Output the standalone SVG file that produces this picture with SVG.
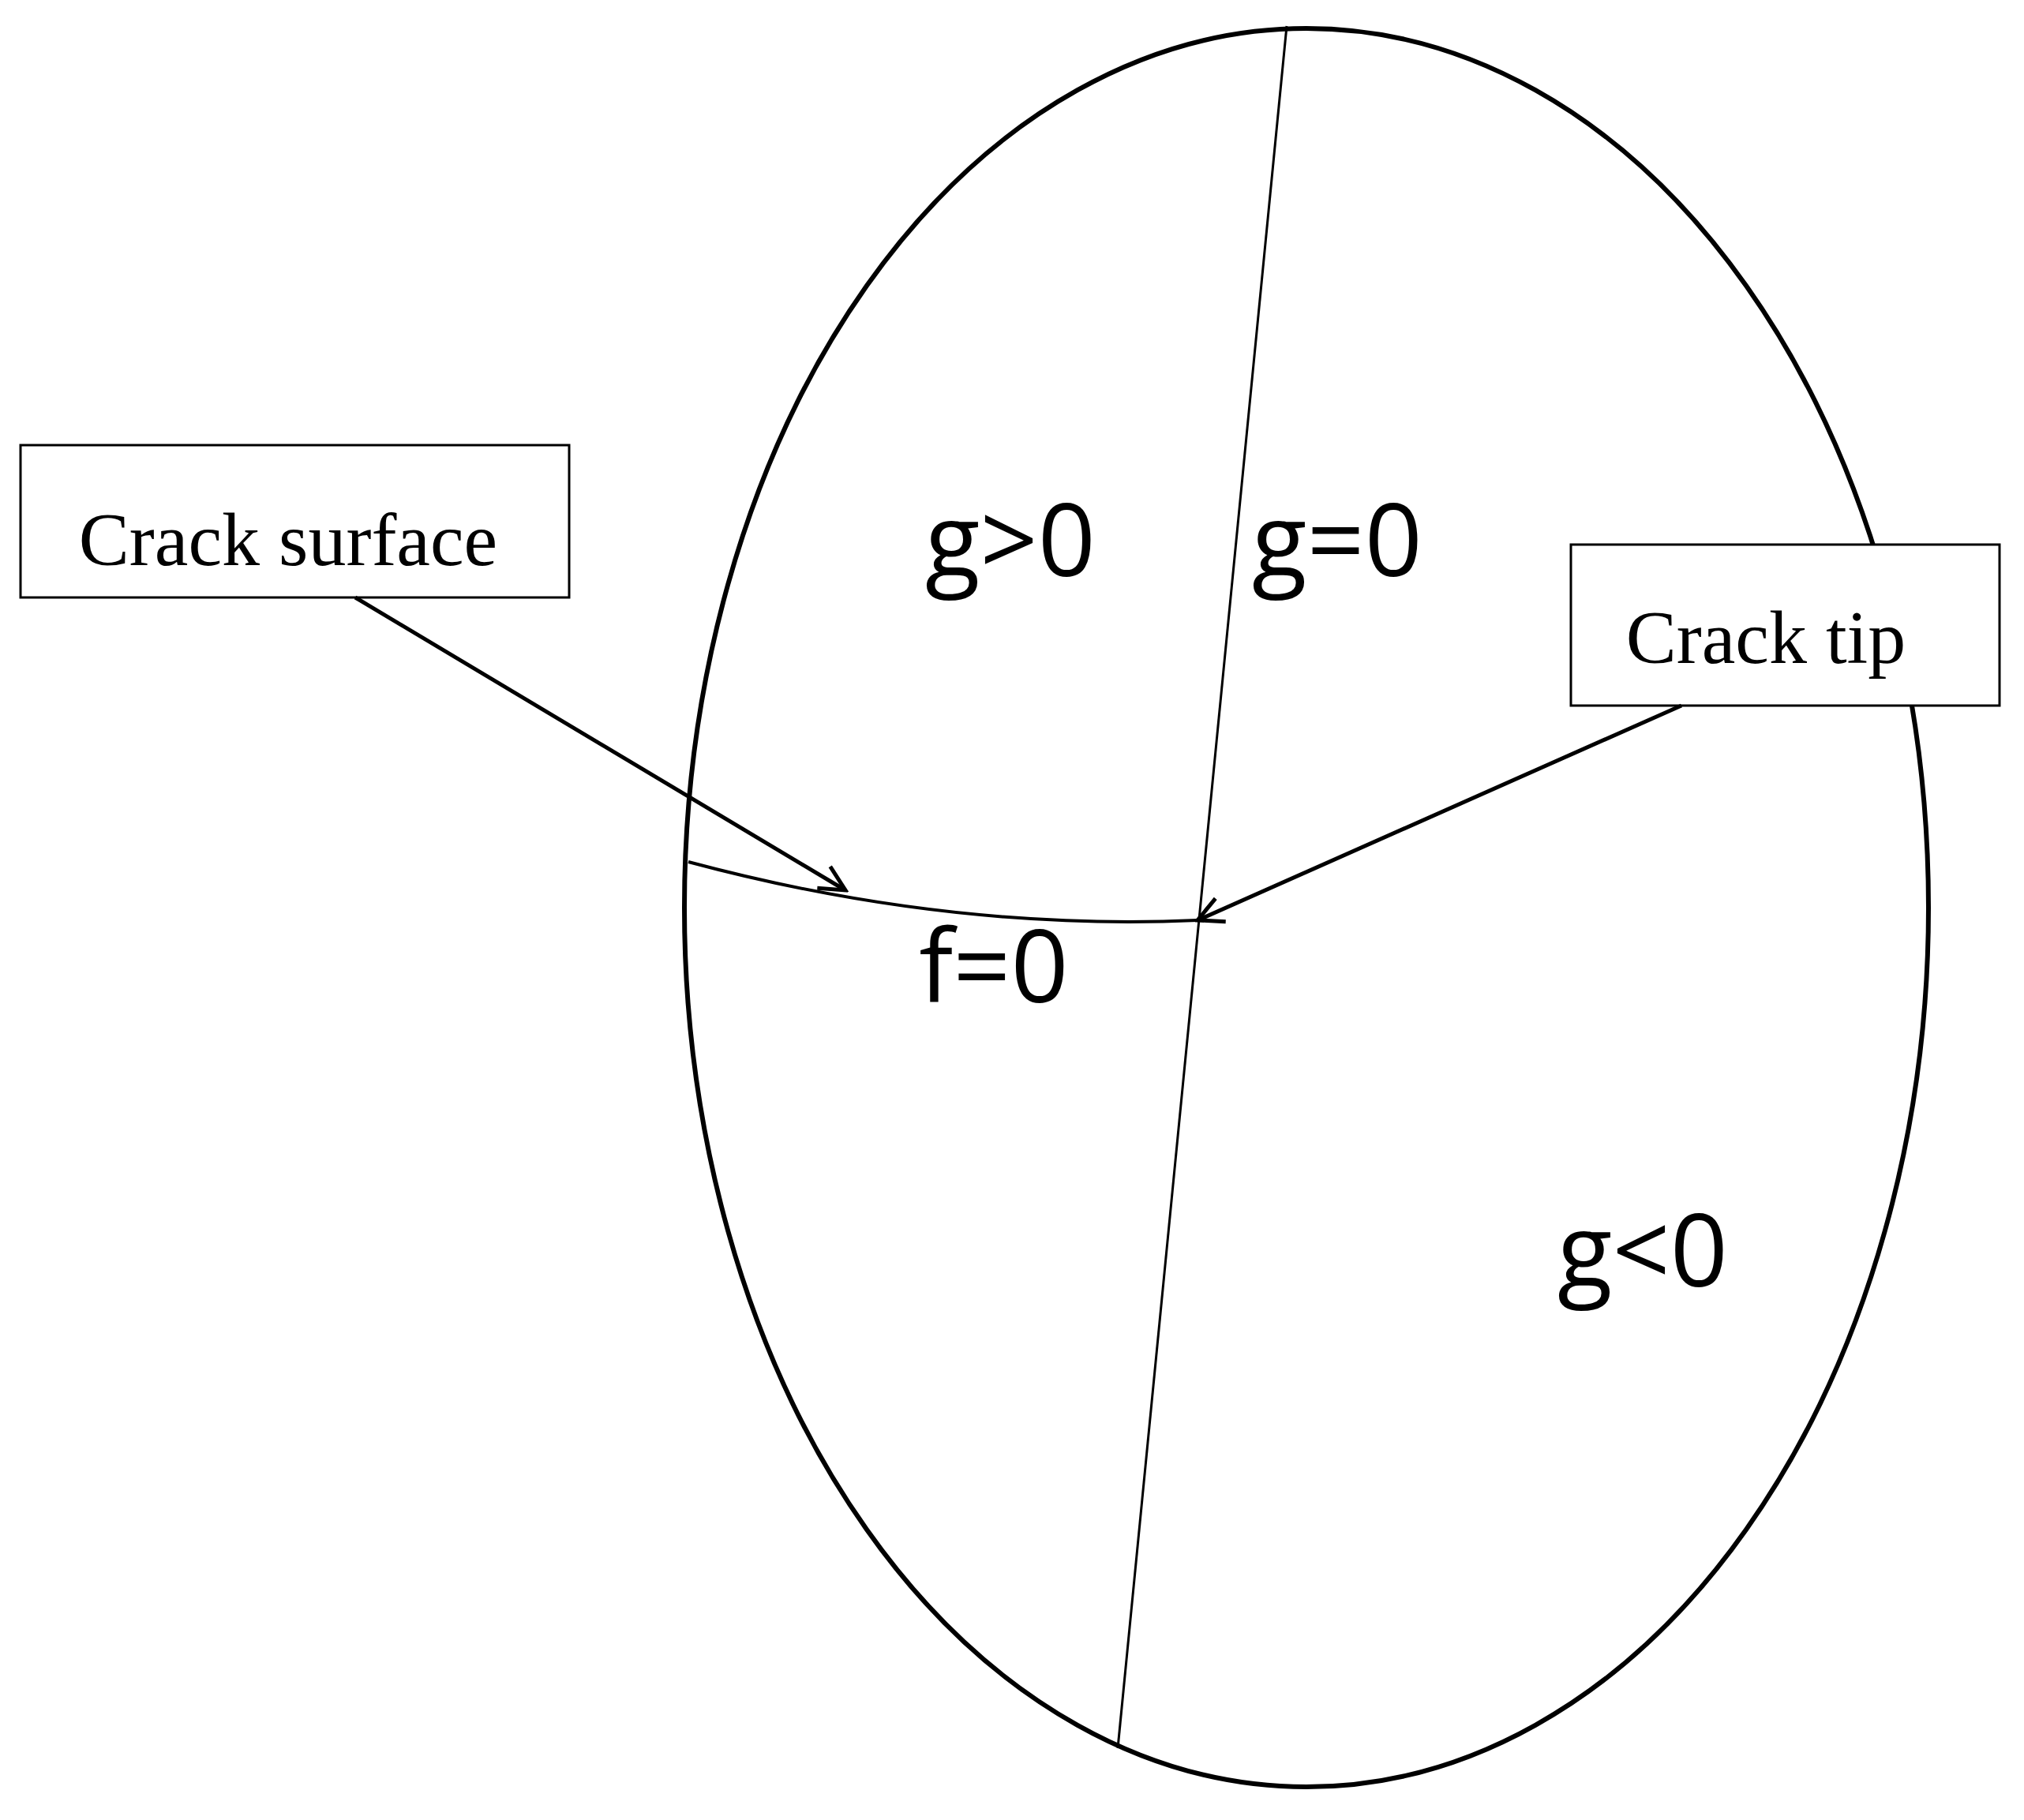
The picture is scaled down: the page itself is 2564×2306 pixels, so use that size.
<svg xmlns="http://www.w3.org/2000/svg" width="2564" height="2306" viewBox="0 0 2564 2306">
<style>
.b{fill:#fff;stroke:#000;stroke-width:3}
.t{font-family:"Liberation Serif",serif;font-size:96px;text-anchor:middle}
.l{font-family:"Open Sans",sans-serif;font-size:128px;text-anchor:middle}
.c{fill:none;stroke:#000}
</style>
<defs><marker id="a" markerWidth="40" markerHeight="40" refX="36" refY="20" orient="auto" markerUnits="userSpaceOnUse"><path d="M4,4 L36,20 L4,36" fill="none" stroke="#000" stroke-width="5"/></marker></defs>
<rect width="2564" height="2306" fill="#fff"/>
<g id="domain"><ellipse cx="1655" cy="1150" rx="788" ry="1114" class="c" stroke-width="6"/></g>
<g id="g0line"><line x1="1630" y1="33" x2="1416" y2="2215" class="c" stroke-width="3"/></g>
<g id="crack"><path d="M872,1092 Q1200,1180 1517,1166" class="c" stroke-width="4"/></g>
<g id="box1"><rect x="26" y="564" width="695" height="193" class="b"/><text x="365" y="716" class="t">Crack surface</text></g>
<g id="box2"><rect x="1990" y="690" width="543" height="204" class="b"/><text x="2237" y="840" class="t">Crack tip</text></g>
<g id="labels">
<text x="1280" y="730" class="l">g&gt;0</text>
<text x="1694" y="730" class="l">g=0</text>
<text x="1259" y="1270" class="l">f=0</text>
<text x="2081" y="1630" class="l">g&lt;0</text>
</g>
<g id="connectors">
<line x1="450" y1="757" x2="1071" y2="1128" class="c" stroke-width="5" marker-end="url(#a)"/>
<line x1="2130" y1="894" x2="1517" y2="1166" class="c" stroke-width="5" marker-end="url(#a)"/>
</g>
</svg>
